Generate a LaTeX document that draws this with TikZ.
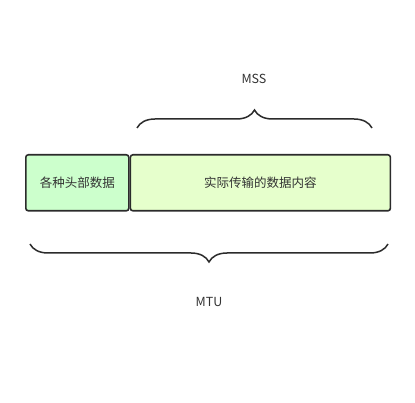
\documentclass[tikz,border=0pt]{standalone}
\usepackage{fontspec}
\setmainfont{Noto Sans CJK SC}
\usepackage{tikz}
\usetikzlibrary{positioning, decorations.pathreplacing, calc}
\definecolor{hdrgreen}{HTML}{CCFFCC}
\definecolor{datagreen}{HTML}{E6FFCC}
\definecolor{linegray}{HTML}{2B2B2B}
\definecolor{textgray}{HTML}{333333}
\tikzset{
    field/.style={rectangle, rounded corners=2.5pt, draw=linegray, line width=1.6pt, minimum height=56pt, inner sep=0pt, text=textgray, font=\fontsize{12.5pt}{14pt}\selectfont},
    brace/.style={decorate, decoration={brace, amplitude=18pt}, draw=linegray, line width=1.5pt},
    label/.style={text=textgray, font=\fontsize{12.5pt}{14pt}\selectfont}
}
\begin{document}
\begin{tikzpicture}[x=1pt, y=-1pt]
    \useasboundingbox (0,0) rectangle (415,403);
    \node (hdr) [field, fill=hdrgreen, minimum width=103pt, anchor=north west] at (25,154) {各种头部数据};
    \node (data) [field, fill=datagreen, minimum width=260pt, anchor=west] at (hdr.east) {实际传输的数据内容};

    \coordinate (mssl) at (137,128);
    \coordinate (mssr) at (372,128);
    \coordinate (mtul) at (30,244);
    \coordinate (mtur) at (388,244);

    \draw [brace] (mssl) -- (mssr);
    \draw [brace] (mtur) -- (mtul);

    \node (mss) [label] at (254,79) {MSS};
    \node (mtu) [label] at (209,302) {MTU};
\end{tikzpicture}
\end{document}
